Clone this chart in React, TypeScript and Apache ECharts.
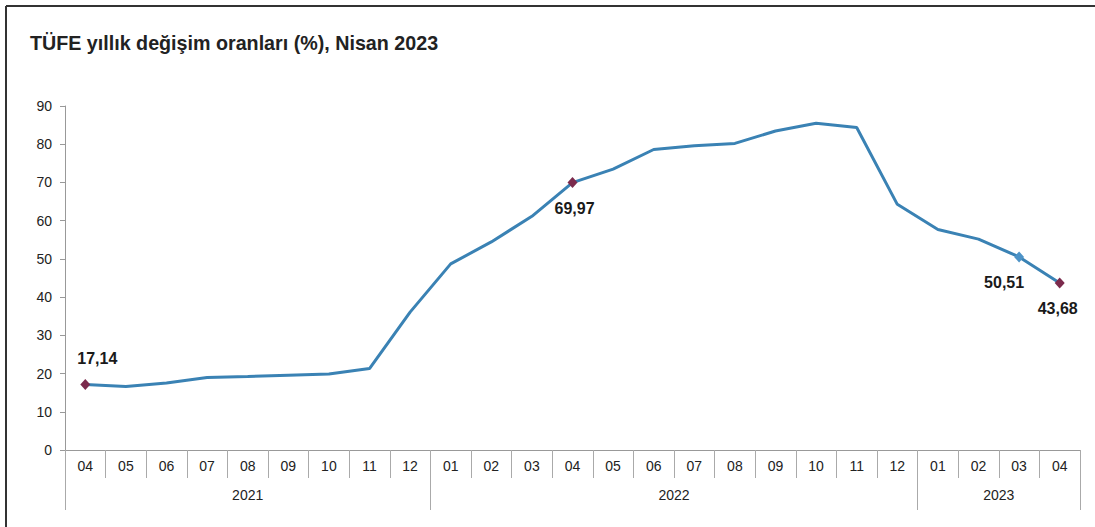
import React, { useEffect, useRef } from "react";
import * as echarts from "echarts";

const titleText = "TÜFE yıllık değişim oranları (%), Nisan 2023";
const months = [
  "04", "05", "06", "07", "08", "09", "10", "11", "12",
  "01", "02", "03", "04", "05", "06", "07", "08", "09", "10", "11", "12",
  "01", "02", "03", "04",
];
const yearLabels = ["2021", "2022", "2023"];
const yearSpans = [9, 12, 4];
const values = [
  17.14, 16.59, 17.53, 18.95, 19.25, 19.58, 19.89, 21.31, 36.08,
  48.69, 54.44, 61.14, 69.97, 73.5, 78.62, 79.6, 80.21, 83.45, 85.51, 84.39, 64.27,
  57.68, 55.18, 50.51, 43.68,
];
const yTicks = [0, 10, 20, 30, 40, 50, 60, 70, 80, 90];
const markedPoints = [0, 12, 23, 24];

const FONT = "'Liberation Sans', Arial, sans-serif";
const LINE_COLOR = "#3a82b4";
const MARK_COLOR = "#7b2a4c";

export default function App() {
  const ref = useRef<HTMLDivElement>(null);
  useEffect(() => {
    if (!ref.current) return;
    const chart = echarts.init(ref.current, null, { renderer: "svg" });

    const bounds: number[] = [0];
    const centers: number[] = [];
    let acc = 0;
    yearSpans.forEach((s) => {
      centers.push(acc + s / 2);
      acc += s;
      bounds.push(acc);
    });

    const labelCfg: Record<number, any> = {
      0: { position: "top", distance: 12, offset: [12, 0] },
      12: { position: "bottom", distance: 12, offset: [2, 0] },
      23: { position: "bottom", distance: 12, offset: [-15, 0] },
      24: { position: "bottom", distance: 12, offset: [-2, 0] },
    };

    const data = values.map((v, i) => {
      if (!markedPoints.includes(i)) return { value: v, symbol: "none" };
      const isBlue = i === 23;
      return {
        value: v,
        symbol: "diamond",
        symbolSize: [10, 11],
        itemStyle: { color: isBlue ? "#4d93c7" : MARK_COLOR },
        label: {
          show: true,
          ...labelCfg[i],
          formatter: () => v.toFixed(2).replace(".", ","),
          fontFamily: FONT,
          fontWeight: "bold",
          fontSize: 16,
          color: "#1a1a1a",
        },
      };
    });

    chart.setOption({
      animation: false,
      backgroundColor: "#ffffff",
      title: {
        text: titleText,
        left: 25,
        top: 28,
        textStyle: { fontFamily: FONT, fontWeight: "bold", fontSize: 19.7, color: "#222" },
      },
      graphic: [
        { type: "line", shape: { x1: 6, y1: 6, x2: 1095, y2: 6 }, style: { stroke: "#333", lineWidth: 2 } },
        { type: "line", shape: { x1: 6, y1: 6, x2: 6, y2: 527 }, style: { stroke: "#333", lineWidth: 2 } },
      ],
      grid: { left: 65, right: 15, top: 106, bottom: 77, containLabel: false },
      xAxis: [
        {
          type: "category",
          data: months,
          boundaryGap: true,
          position: "bottom",
          axisLine: { show: true, lineStyle: { color: "#999", width: 1 } },
          axisTick: { show: true, interval: 0, length: 28, lineStyle: { color: "#aaa" } },
          axisLabel: { interval: 0, margin: 9, fontFamily: FONT, fontSize: 14, color: "#222" },
          splitLine: { show: false },
        },
        {
          type: "value",
          min: 0,
          max: months.length,
          position: "bottom",
          offset: 28,
          axisLine: { show: false },
          axisTick: { show: true, customValues: bounds, length: 32, lineStyle: { color: "#aaa" } },
          axisLabel: {
            show: true,
            customValues: centers,
            margin: 10,
            fontFamily: FONT,
            fontSize: 14,
            color: "#222",
            formatter: (v: number) => {
              const idx = centers.findIndex((c) => Math.abs(c - v) < 1e-6);
              return idx >= 0 ? yearLabels[idx] : "";
            },
          },
          splitLine: { show: false },
        },
      ],
      yAxis: {
        type: "value",
        min: yTicks[0],
        max: yTicks[yTicks.length - 1],
        interval: 10,
        axisLine: { show: true, lineStyle: { color: "#999" } },
        axisTick: { show: true, length: 5, lineStyle: { color: "#999" } },
        axisLabel: { margin: 13, fontFamily: FONT, fontSize: 14, color: "#222" },
        splitLine: { show: false },
      },
      series: [
        {
          type: "line",
          xAxisIndex: 0,
          data,
          showSymbol: true,
          lineStyle: { color: LINE_COLOR, width: 3 },
          itemStyle: { color: LINE_COLOR },
          z: 3,
        },
      ],
    });
    return () => chart.dispose();
  }, []);
  return (
    <div
      ref={ref}
      style={{ position: "absolute", left: 0, top: 0, width: 1095, height: 527 }}
    />
  );
}
